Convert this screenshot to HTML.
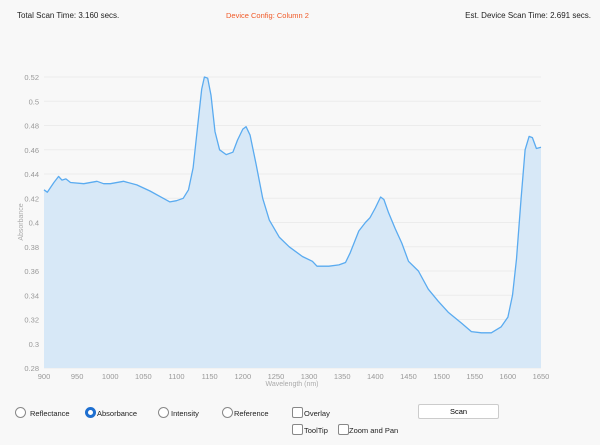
<!DOCTYPE html>
<html><head><meta charset="utf-8"><style>
body{margin:0;width:600px;height:445px;background:#f8f8f8;font-family:"Liberation Sans",sans-serif;overflow:hidden;position:relative}
.t{position:absolute;top:11px;font-size:8px;color:#222}
.lbl{position:absolute;font-size:7.5px;color:#222}
.rad{position:absolute;width:9px;height:9px;border:1px solid #888;border-radius:50%;background:#fff}
.chk{position:absolute;width:9px;height:9px;border:1px solid #888;border-radius:2px;background:#fff}
</style></head><body>
<div class="t" style="left:17px">Total Scan Time: 3.160 secs.</div>
<div class="t" style="left:226px;color:#f05a28;font-size:7.5px">Device Config: Column 2</div>
<div class="t" style="right:9px;font-size:8px">Est. Device Scan Time: 2.691 secs.</div>
<svg id="s" width="600" height="445" style="position:absolute;left:0;top:0" font-family="Liberation Sans, sans-serif"></svg>
<div class="rad" style="left:15px;top:407px"></div><div class="lbl" style="left:30px;top:409px">Reflectance</div>
<div class="rad" style="left:85px;top:407px;border:3px solid #1e6fd0;width:5px;height:5px"></div><div class="lbl" style="left:97px;top:409px">Absorbance</div>
<div class="rad" style="left:158px;top:407px"></div><div class="lbl" style="left:171px;top:409px">Intensity</div>
<div class="rad" style="left:222px;top:407px"></div><div class="lbl" style="left:234px;top:409px">Reference</div>
<div class="chk" style="left:292px;top:407px"></div><div class="lbl" style="left:304px;top:409px">Overlay</div>
<div class="chk" style="left:292px;top:424px"></div><div class="lbl" style="left:304px;top:426px">ToolTip</div>
<div class="chk" style="left:338px;top:424px"></div><div class="lbl" style="left:349px;top:426px">Zoom and Pan</div>
<div style="position:absolute;left:418px;top:404px;width:79px;height:13px;border:1px solid #ccc;border-radius:2px;background:#fff;font-size:7.5px;text-align:center;line-height:13px">Scan</div>
<script>
var s=document.getElementById('s'),h='';
function X(n){return 44+(n-900)*(497/750)}
function Y(a){return 368-(a-0.28)*(291/0.24)}
for(var i=0;i<=12;i++){var a=0.28+i*0.02,y=Y(a);
h+='<line x1="44" x2="541" y1="'+y+'" y2="'+y+'" stroke="#ececec" stroke-width="1"/>';
h+='<text x="39" y="'+(y+3)+'" font-size="7.5" fill="#999" text-anchor="end">'+(+a.toFixed(2))+'</text>';}
for(var n=900;n<=1650;n+=50)h+='<text x="'+X(n)+'" y="379" font-size="7.5" fill="#999" text-anchor="middle">'+n+'</text>';
h+='<text x="292" y="386" font-size="7" fill="#aaa" text-anchor="middle">Wavelength (nm)</text>';
h+='<text transform="translate(23,222) rotate(-90)" font-size="7" fill="#aaa" text-anchor="middle">Absorbance</text>';
var d=[[900,.427],[905,.425],[915,.433],[922,.438],[927,.435],[933,.436],[940,.433],[960,.432],[980,.434],[990,.432],[1000,.432],[1020,.434],[1040,.431],[1060,.426],[1080,.420],[1090,.417],[1100,.418],[1110,.420],[1118,.427],[1125,.445],[1132,.480],[1138,.510],[1142,.520],[1147,.519],[1152,.505],[1158,.475],[1165,.460],[1175,.456],[1185,.458],[1192,.468],[1200,.477],[1205,.479],[1211,.472],[1220,.448],[1230,.420],[1240,.402],[1255,.388],[1270,.380],[1290,.372],[1305,.368],[1312,.364],[1330,.364],[1345,.365],[1355,.367],[1362,.375],[1375,.393],[1385,.400],[1392,.404],[1400,.412],[1408,.421],[1413,.419],[1420,.408],[1430,.395],[1440,.383],[1450,.368],[1465,.360],[1480,.345],[1495,.335],[1510,.326],[1530,.317],[1545,.310],[1560,.309],[1575,.309],[1590,.314],[1600,.322],[1607,.340],[1613,.370],[1620,.420],[1626,.460],[1632,.471],[1637,.470],[1643,.461],[1650,.462]];
var p='';d.forEach(function(q,i){p+=(i?'L':'M')+X(q[0]).toFixed(1)+' '+Y(q[1]).toFixed(1)});
h+='<path d="'+p+'L541 368L44 368Z" fill="#d7e8f7"/>';
h+='<path d="'+p+'" fill="none" stroke="#5aabf0" stroke-width="1.3" stroke-linejoin="round"/>';
s.innerHTML=h;
</script>
</body></html>
